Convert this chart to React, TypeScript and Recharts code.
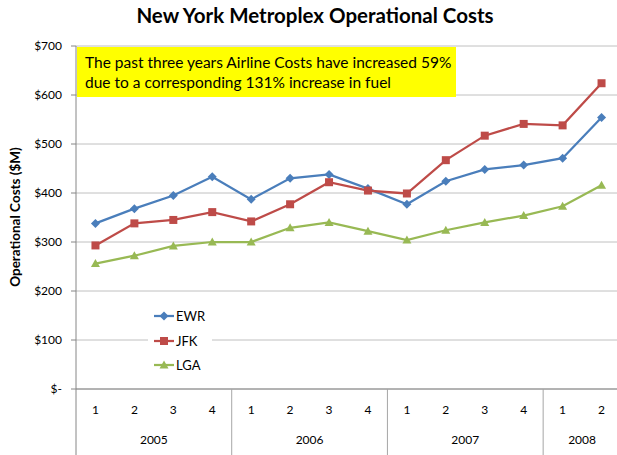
import { LineChart, Line, XAxis, YAxis, CartesianGrid, Legend } from "recharts";

const quarters: string[] = ["1", "2", "3", "4", "1", "2", "3", "4", "1", "2", "3", "4", "1", "2"];
const years: string[] = ["2005", "2005", "2005", "2005", "2006", "2006", "2006", "2006", "2007", "2007", "2007", "2007", "2008", "2008"];
const ewr: number[] = [338, 368, 395, 433, 387, 430, 438, 409, 377, 424, 448, 457, 471, 554];
const jfk: number[] = [293, 338, 345, 361, 342, 377, 422, 405, 399, 467, 517, 541, 538, 624];
const lga: number[] = [256, 272, 292, 300, 300, 329, 340, 322, 304, 324, 340, 354, 373, 416];
const yTicks: number[] = [0, 100, 200, 300, 400, 500, 600, 700];

const data = quarters.map((q, i) => ({ q, year: years[i], EWR: ewr[i], JFK: jfk[i], LGA: lga[i] }));

const COLOURS = { EWR: "#4A7EBB", JFK: "#BE4B48", LGA: "#98B954" };
const FONT = "Lato, 'Open Sans', sans-serif";

// plot area is 545px wide, points sit in the middle of each quarter's slot
const PLOT_W = 545;
const HALF = PLOT_W / quarters.length / 2;

function Marker(props: { cx: number; cy: number; kind: string; fill: string }) {
    const { cx, cy, kind, fill } = props;
    if (kind === "EWR") {
        return <polygon points={`${cx},${cy - 4.5} ${cx + 4.5},${cy} ${cx},${cy + 4.5} ${cx - 4.5},${cy}`} fill={fill} />;
    }
    if (kind === "JFK") {
        return <rect x={cx - 4} y={cy - 4} width={8} height={8} fill={fill} />;
    }
    return <polygon points={`${cx},${cy - 4.5} ${cx + 4.5},${cy + 3.5} ${cx - 4.5},${cy + 3.5}`} fill={fill} />;
}

function makeDot(kind: string, fill: string) {
    return (p: any) => {
        if (p.cx == null || p.cy == null) return <g key={p.index} />;
        return <Marker key={p.index} cx={p.cx} cy={p.cy} kind={kind} fill={fill} />;
    };
}

function QuarterTick(props: any) {
    const { x, y, payload } = props;
    const i: number = payload.index;
    const half: number = payload.offset || HALF;
    const yr = years[i];
    const first = years.indexOf(yr) === i;
    const count = years.filter((v) => v === yr).length;
    return (
        <g>
            <text x={x} y={y + 25} textAnchor="middle" fontSize={12} fill="#000" fontFamily={FONT}>{quarters[i]}</text>
            {first && (
                <>
                    <line x1={x - half} y1={y} x2={x - half} y2={y + 70} stroke={i === 0 ? "#868686" : "#a6a6a6"} strokeWidth={1} />
                    <text x={x + (count - 1) * half} y={y + 55} textAnchor="middle" fontSize={12} fill="#000" fontFamily={FONT}>{yr}</text>
                </>
            )}
        </g>
    );
}

function LegendBox() {
    const items = [
        { name: "EWR", colour: COLOURS.EWR },
        { name: "JFK", colour: COLOURS.JFK },
        { name: "LGA", colour: COLOURS.LGA },
    ];
    return (
        <div style={{ background: "#fff", width: 64, height: 66, paddingTop: 4, boxSizing: "border-box" }}>
            {items.map((it) => (
                <div key={it.name} style={{ display: "flex", alignItems: "center", height: 24.5, fontFamily: FONT, fontSize: 13 }}>
                    <svg width={28} height={12} style={{ marginLeft: 5 }}>
                        <line x1={1} y1={6} x2={21} y2={6} stroke={it.colour} strokeWidth={2.25} />
                        <Marker cx={11} cy={6} kind={it.name} fill={it.colour} />
                    </svg>
                    <span style={{ marginLeft: -5 }}>{it.name}</span>
                </div>
            ))}
        </div>
    );
}

export default function App() {
    return (
        <div style={{ position: "absolute", left: 0, top: 0, width: 617, height: 455, overflow: "hidden", background: "#fff" }}>
            <div style={{ position: "absolute", left: 0, top: 3, width: 630, textAlign: "center", fontFamily: FONT, fontWeight: 700, fontSize: 20.5 }}>
                New York Metroplex Operational Costs
            </div>
            <LineChart width={630} height={455} data={data} margin={{ top: 46, right: 9, bottom: 0, left: 0 }}>
                <CartesianGrid vertical={false} stroke="#c0c0c0" />
                <XAxis
                    dataKey="q"
                    height={66}
                    padding={{ left: HALF, right: HALF }}
                    axisLine={{ stroke: "#868686" }}
                    tickLine={false}
                    tickSize={0}
                    tickMargin={0}
                    interval={0}
                    tick={<QuarterTick />}
                />
                <YAxis
                    width={76}
                    domain={[0, 700]}
                    ticks={yTicks}
                    interval={0}
                    axisLine={{ stroke: "#868686" }}
                    tickLine={{ stroke: "#868686" }}
                    tickSize={5}
                    tickMargin={9}
                    tick={{ fontSize: 12, fill: "#000", fontFamily: FONT }}
                    tickFormatter={(v: number) => (v === 0 ? "$-" : `$${v}`)}
                />
                <Legend
                    layout="vertical"
                    align="center"
                    verticalAlign="middle"
                    wrapperStyle={{ left: 148, top: 300, width: 64 }}
                    content={<LegendBox />}
                />
                <Line dataKey="EWR" stroke={COLOURS.EWR} strokeWidth={2.25} dot={makeDot("EWR", COLOURS.EWR)} activeDot={false} isAnimationActive={false} />
                <Line dataKey="JFK" stroke={COLOURS.JFK} strokeWidth={2.25} dot={makeDot("JFK", COLOURS.JFK)} activeDot={false} isAnimationActive={false} />
                <Line dataKey="LGA" stroke={COLOURS.LGA} strokeWidth={2.25} dot={makeDot("LGA", COLOURS.LGA)} activeDot={false} isAnimationActive={false} />
            </LineChart>
            <div style={{ position: "absolute", left: 77, top: 47, width: 379, height: 50, background: "#ffff00", fontFamily: FONT, fontSize: 15.5, lineHeight: "19.5px", padding: "6px 0 0 8px", boxSizing: "border-box", color: "#000", whiteSpace: "nowrap" }}>
                The past three years Airline Costs have increased 59%<br />
                due to a corresponding 131% increase in fuel
            </div>
            <div style={{ position: "absolute", left: 15, top: 217, transform: "translate(-50%, -50%) rotate(-90deg)", fontFamily: FONT, fontWeight: 700, fontSize: 13.5, whiteSpace: "nowrap" }}>
                Operational Costs ($M)
            </div>
        </div>
    );
}
